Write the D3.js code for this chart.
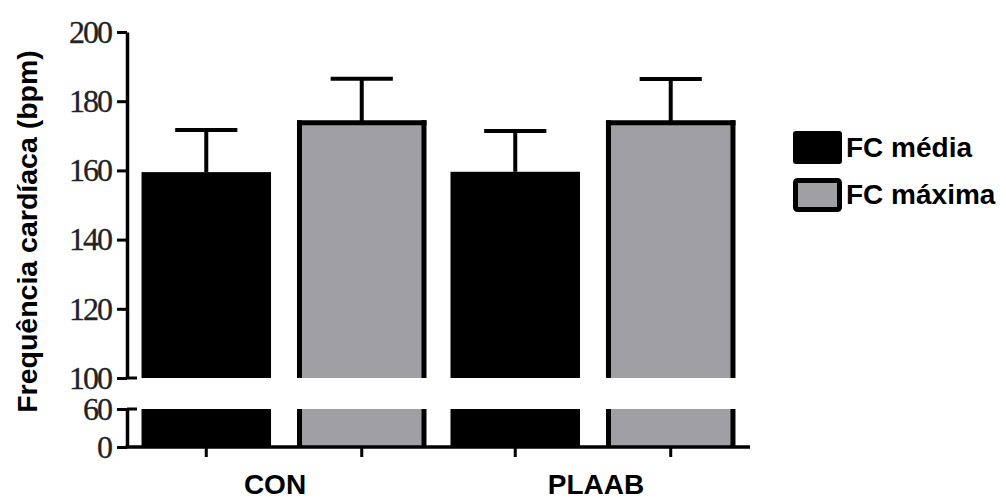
<!DOCTYPE html>
<html><head><meta charset="utf-8">
<script src="https://cdn.jsdelivr.net/npm/d3@7"></script>
<style>
html,body{margin:0;padding:0;background:#fff;}
svg{display:block;}
</style></head>
<body>
<svg id="chart" width="1006" height="500"></svg>
<script>
// ---- data ----
const groups = ["CON", "PLAAB"];
const series = ["FC média", "FC máxima"];
const meanMedia = [159.5, 159.6];
const meanMaxima = [173.8, 173.8];
const errMedia = [12.2, 11.8];
const errMaxima = [12.7, 12.6];
const upperTicks = [100, 120, 140, 160, 180, 200];
const lowerTicks = [0, 60];
const yTitle = "Frequência cardíaca (bpm)";

const colors = {"FC média": "#000000", "FC máxima": "#a09fa3"};

const bars = [];
groups.forEach((g, i) => {
  bars.push({group: g, series: series[0], value: meanMedia[i], err: errMedia[i]});
  bars.push({group: g, series: series[1], value: meanMaxima[i], err: errMaxima[i]});
});

const svg = d3.select("#chart");
const axisX = 127;

const x0 = d3.scaleBand().domain(groups).range([axisX, 750]).paddingInner(0.0777).paddingOuter(0.047);
const x1 = d3.scaleBand().domain(series).range([0, x0.bandwidth()]).paddingInner(0.167).paddingOuter(0);
const yU = d3.scaleLinear().domain([100, 200]).range([378, 32]);
const yL = d3.scaleLinear().domain([0, 60]).range([447, 409]);

const bw = x1.bandwidth();
const bx = d => x0(d.group) + x1(d.series);
const cx = d => bx(d) + bw / 2;

const sw = 5;
const g = svg.append("g");

const segments = [
  {y: yU, lo: 100, hi: 200, top: true},
  {y: yL, lo: 0, hi: 60, top: false}
];

segments.forEach(seg => {
  bars.forEach(d => {
    const v = Math.min(d.value, seg.hi);
    const yTop = seg.y(v), yBot = seg.y(seg.lo);
    if (d.series === series[0]) {
      g.append("rect").attr("x", bx(d)).attr("width", bw)
        .attr("y", yTop).attr("height", yBot - yTop)
        .attr("fill", colors[d.series]);
    } else {
      g.append("rect").attr("x", bx(d) + sw / 2).attr("width", bw - sw)
        .attr("y", yTop).attr("height", yBot - yTop)
        .attr("fill", colors[d.series]);
      [bx(d) + sw / 2, bx(d) + bw - sw / 2].forEach(xx => {
        g.append("line").attr("x1", xx).attr("x2", xx)
          .attr("y1", seg.top ? yTop - sw / 2 : yTop).attr("y2", yBot)
          .attr("stroke", "#000").attr("stroke-width", sw);
      });
      if (seg.top) {
        g.append("line").attr("x1", bx(d)).attr("x2", bx(d) + bw)
          .attr("y1", yTop).attr("y2", yTop)
          .attr("stroke", "#000").attr("stroke-width", sw);
      }
    }
  });
});

// error bars
const capW = bw * 0.48;
bars.forEach(d => {
  const yTop = yU(d.value), yErr = yU(d.value + d.err);
  g.append("line").attr("x1", cx(d)).attr("x2", cx(d))
    .attr("y1", yTop).attr("y2", yErr)
    .attr("stroke", "#000").attr("stroke-width", 4);
  g.append("line").attr("x1", cx(d) - capW / 2).attr("x2", cx(d) + capW / 2)
    .attr("y1", yErr).attr("y2", yErr)
    .attr("stroke", "#000").attr("stroke-width", 4);
});

// y axes
function styleAxis(sel) {
  sel.select(".domain").attr("stroke", "#000").attr("stroke-width", 3.5);
  sel.selectAll(".tick line").attr("stroke", "#000").attr("stroke-width", 3);
  sel.selectAll(".tick text").attr("font-family", "'Liberation Serif', 'Times New Roman', serif")
    .attr("font-size", 32).attr("fill", "#222").attr("letter-spacing", -2)
    .attr("stroke", "#222").attr("stroke-width", 0.3);
}
const axU = svg.append("g").attr("transform", `translate(${axisX},0)`)
  .call(d3.axisLeft(yU).tickValues(upperTicks).tickSize(10).tickSizeOuter(0).tickPadding(6));
styleAxis(axU);
const axL = svg.append("g").attr("transform", `translate(${axisX},0)`)
  .call(d3.axisLeft(yL).tickValues(lowerTicks).tickSize(10).tickSizeOuter(0).tickPadding(6));
styleAxis(axL);
[yU(100), yL(60)].forEach(yy => {
  svg.append("line").attr("x1", axisX).attr("x2", axisX + 10).attr("y1", yy).attr("y2", yy)
    .attr("stroke", "#000").attr("stroke-width", 3);
});

// x axis
svg.append("line").attr("x1", axisX - 1.5).attr("x2", x0.range()[1]).attr("y1", yL(0)).attr("y2", yL(0))
  .attr("stroke", "#000").attr("stroke-width", 3.5);
bars.forEach(d => {
  svg.append("line").attr("x1", cx(d)).attr("x2", cx(d)).attr("y1", yL(0)).attr("y2", yL(0) + 10)
    .attr("stroke", "#000").attr("stroke-width", 3);
});
const labelShift = {"CON": -9, "PLAAB": 3};
svg.selectAll(".glabel").data(groups).enter().append("text")
  .attr("x", d => x0(d) + x0.bandwidth() / 2 + labelShift[d]).attr("y", 494)
  .attr("text-anchor", "middle")
  .attr("font-family", "'Liberation Sans', Arial, sans-serif").attr("font-weight", "bold")
  .attr("font-size", 28).text(d => d);

// y title
svg.append("text").attr("transform", `translate(37,${(48 + 415) / 2}) rotate(-90)`)
  .attr("text-anchor", "middle")
  .attr("font-family", "'Liberation Sans', Arial, sans-serif").attr("font-weight", "bold")
  .attr("font-size", 28.5).text(yTitle);

// legend
const leg = svg.append("g");
series.forEach((s, i) => {
  const ly = 131 + i * 47;
  if (i === 0) {
    leg.append("rect").attr("x", 793).attr("y", ly).attr("width", 49).attr("height", 33)
      .attr("rx", 3).attr("fill", colors[s]);
  } else {
    leg.append("rect").attr("x", 793 + 2.5).attr("y", ly + 2.5).attr("width", 44).attr("height", 29)
      .attr("rx", 2).attr("fill", colors[s]).attr("stroke", "#000").attr("stroke-width", 5);
  }
  leg.append("text").attr("x", 846).attr("y", ly + 26)
    .attr("font-family", "'Liberation Sans', Arial, sans-serif").attr("font-weight", "bold")
    .attr("font-size", 28).text(s);
});
</script>
</body></html>
